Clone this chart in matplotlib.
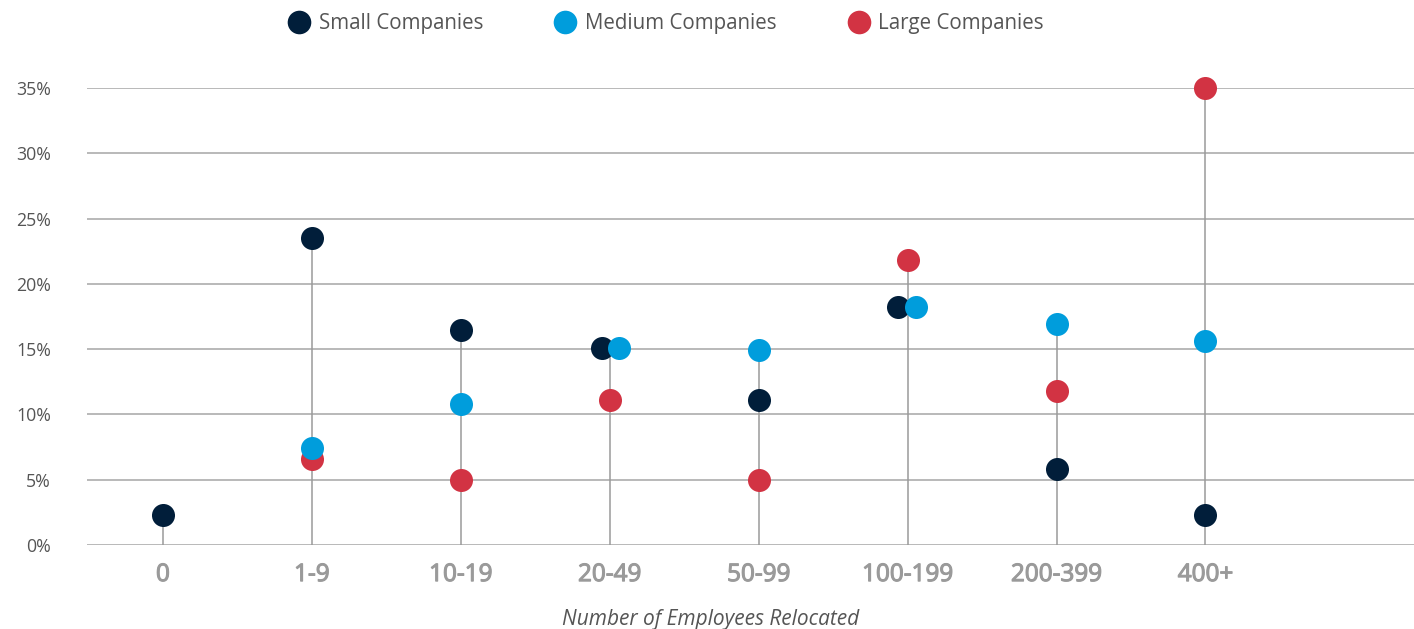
import matplotlib
matplotlib.use("Agg")
import matplotlib.pyplot as plt
import matplotlib.patheffects as pe
from matplotlib.lines import Line2D
import numpy as np

categories = ["0", "1-9", "10-19", "20-49", "50-99", "100-199", "200-399", "400+"]
small = [2.3, 23.5, 16.5, 15.1, 11.1, 18.2, 5.8, 2.3]
medium = [None, 7.4, 10.8, 15.1, 14.9, 18.2, 16.9, 15.6]
large = [None, 6.6, 5.0, 11.1, 5.0, 21.8, 11.8, 35.0]
series_names = ["Small Companies", "Medium Companies", "Large Companies"]
colors = ["#011e3a", "#009ddc", "#d23343"]
# horizontal nudges (in category units) for points that coincide
nudge_small = [0, 0, 0, -0.055, 0, -0.065, 0, 0]
nudge_medium = [0, 0, 0, 0.06, 0, 0.055, 0, 0]
yticks = [0, 5, 10, 15, 20, 25, 30, 35]

plt.rcParams['font.family'] = ['Open Sans', 'DejaVu Sans']

fig = plt.figure(figsize=(14.14, 6.29), dpi=100)
ax = fig.add_axes([0.0615, 0.1335, 0.9385, 0.7265])

x = np.arange(len(categories))
ax.set_xlim(-0.51, 8.4)
ax.set_ylim(0, 35)

for yv in yticks:
    ax.axhline(yv, color="#a5a5a5", lw=1.1, zorder=1)

# stems
for i in range(len(categories)):
    vals = [v for v in (small[i], medium[i], large[i]) if v is not None]
    ax.plot([x[i], x[i]], [0, max(vals)], color="#9a9a9a", lw=1.1, zorder=2)

ms = 275
def pts(vals, nudge):
    xs, ys = [], []
    for i, v in enumerate(vals):
        if v is not None:
            xs.append(x[i] + nudge[i]); ys.append(v)
    return xs, ys

zero = [0] * len(categories)
lx, ly = pts(large, zero)
ax.scatter(lx, ly, s=ms, color=colors[2], zorder=3, clip_on=False, linewidths=0)
sx, sy = pts(small, nudge_small)
ax.scatter(sx, sy, s=ms, color=colors[0], zorder=4, clip_on=False, linewidths=0)
mx, my = pts(medium, nudge_medium)
ax.scatter(mx, my, s=ms, color=colors[1], zorder=5, clip_on=False, linewidths=0)

for s in ax.spines.values():
    s.set_visible(False)

ax.set_yticks(yticks)
ax.set_yticklabels([f"{v}%" for v in yticks], color="#555555", fontsize=12.8)
ax.set_xticks(x)
ax.set_xticklabels(categories, color="#9a9a9a", fontsize=17.5)
for lbl in ax.get_xticklabels():
    lbl.set_path_effects([pe.withStroke(linewidth=0.8, foreground="#9a9a9a")])
ax.tick_params(axis="both", length=0)
ax.tick_params(axis="y", pad=26)
ax.tick_params(axis="x", pad=13)
for lbl in ax.get_yticklabels():
    lbl.set_horizontalalignment("right")

ax.set_xlabel("Number of Employees Relocated", fontsize=15, style="italic",
              color="#555555")
ax.xaxis.set_label_coords(0.470, -0.139)

handles = [Line2D([], [], marker="o", linestyle="none", markersize=17,
                  markerfacecolor=c, markeredgewidth=0) for c in colors]
fig.legend(handles, series_names, loc="upper center", bbox_to_anchor=(0.4705, 1.008),
           ncol=3, frameon=False, fontsize=14.8, labelcolor="#555555",
           handletextpad=0.35, columnspacing=3.4, handlelength=1.2)

fig.savefig("out.png", dpi=100)
